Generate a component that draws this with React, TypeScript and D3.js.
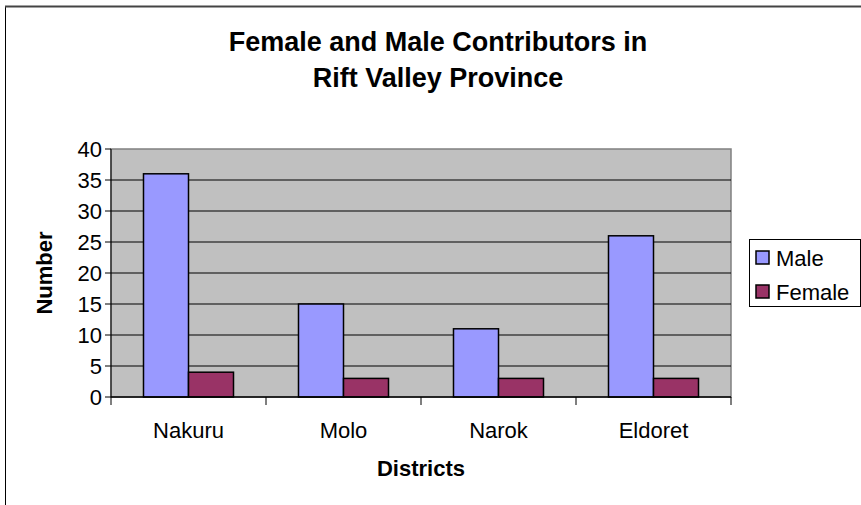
import React from "react";
import * as d3 from "d3";

const districts = ["Nakuru", "Molo", "Narok", "Eldoret"];
const seriesNames = ["Male", "Female"];
const maleValues = [36, 15, 11, 26];
const femaleValues = [4, 3, 3, 3];
const yTicks = [0, 5, 10, 15, 20, 25, 30, 35, 40];
const seriesColors = ["#9999FF", "#993366"];

const W = 861;
const H = 505;
const plot = { left: 111, right: 731, top: 149, bottom: 397 };
const font = "'Liberation Sans', Arial, sans-serif";

export default function App() {
  const x = d3.scaleBand<string>().domain(districts).range([plot.left, plot.right]).paddingInner(0).paddingOuter(0);
  const xs = d3.scaleBand<string>().domain(seriesNames).range([0, x.bandwidth()]).paddingInner(0).paddingOuter(0.722);
  const y = d3.scaleLinear().domain([0, 40]).range([plot.bottom, plot.top]);
  const values = [maleValues, femaleValues];
  const boundaries = [...districts.map((d) => x(d) as number), plot.right];

  return (
    <svg width={W} height={H} style={{ position: "absolute", left: 0, top: 0, background: "#fff" }} fontFamily={font}>
      {/* chart frame */}
      <rect x={5.5} y={6.5} width={W + 20} height={H + 20} fill="#fff" stroke="#000" strokeWidth={1} />
      <line x1={5} x2={W} y1={6.5} y2={6.5} stroke="#444" strokeWidth={2} />

      {/* title */}
      <text x={438} y={51} textAnchor="middle" fontSize={27} fontWeight="bold">Female and Male Contributors in</text>
      <text x={438} y={87} textAnchor="middle" fontSize={27} fontWeight="bold">Rift Valley Province</text>

      {/* plot area */}
      <rect x={plot.left} y={plot.top} width={plot.right - plot.left} height={plot.bottom - plot.top} fill="#C0C0C0" stroke="#808080" strokeWidth={1.5} />
      {yTicks.filter((t) => t > 0 && t < 40).map((t) => (
        <line key={t} x1={plot.left} x2={plot.right} y1={y(t)} y2={y(t)} stroke="#000" strokeWidth={1} />
      ))}

      {/* bars */}
      {seriesNames.map((s, si) =>
        districts.map((d, di) => (
          <rect
            key={s + d}
            x={(x(d) as number) + (xs(s) as number)}
            y={y(values[si][di])}
            width={xs.bandwidth()}
            height={y(0) - y(values[si][di])}
            fill={seriesColors[si]}
            stroke="#000"
            strokeWidth={1.5}
          />
        ))
      )}

      {/* axes */}
      <line x1={plot.left} x2={plot.left} y1={plot.top} y2={plot.bottom} stroke="#000" strokeWidth={1} />
      <line x1={plot.left} x2={plot.right} y1={plot.bottom} y2={plot.bottom} stroke="#000" strokeWidth={1.5} />
      {yTicks.map((t) => (
        <g key={t}>
          <line x1={plot.left - 6} x2={plot.left} y1={y(t)} y2={y(t)} stroke="#000" />
          <text x={plot.left - 9} y={y(t) + 8} textAnchor="end" fontSize={22}>{t}</text>
        </g>
      ))}
      {boundaries.map((b, i) => (
        <line key={i} x1={b} x2={b} y1={plot.bottom} y2={plot.bottom + 8} stroke="#000" />
      ))}
      {districts.map((d) => (
        <text key={d} x={(x(d) as number) + x.bandwidth() / 2} y={438} textAnchor="middle" fontSize={22}>{d}</text>
      ))}
      <text x={(plot.left + plot.right) / 2} y={476} textAnchor="middle" fontSize={22} fontWeight="bold">Districts</text>
      <text transform={`translate(52, ${(plot.top + plot.bottom) / 2}) rotate(-90)`} textAnchor="middle" fontSize={22} fontWeight="bold">Number</text>

      {/* legend */}
      <rect x={749.5} y={239.5} width={111} height={67} fill="#fff" stroke="#000" strokeWidth={1} />
      {seriesNames.map((s, i) => (
        <g key={s}>
          <rect x={756} y={251 + i * 34} width={13} height={13} fill={seriesColors[i]} stroke="#000" strokeWidth={1.5} />
          <text x={776} y={266 + i * 34} fontSize={22}>{s}</text>
        </g>
      ))}
    </svg>
  );
}
